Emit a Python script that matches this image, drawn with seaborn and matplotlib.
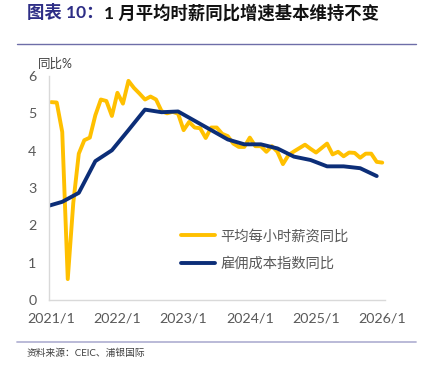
import numpy as np
import pandas as pd
import seaborn as sns
import matplotlib.pyplot as plt
from matplotlib.lines import Line2D

# monthly index 0 = 2021/1 ... 60 = 2026/1
ahe_month = list(range(0, 61))
ahe_yoy = [5.30, 5.29, 4.50, 0.56, 2.60, 3.92, 4.28, 4.35, 4.95, 5.37,
           5.33, 4.93, 5.55, 5.26, 5.87, 5.68, 5.53, 5.37, 5.45, 5.37,
           5.06, 5.00, 5.04, 4.99, 4.55, 4.77, 4.62, 4.60, 4.34, 4.62,
           4.62, 4.45, 4.39, 4.19, 4.10, 4.10, 4.35, 4.12, 4.12, 3.97,
           4.12, 3.97, 3.64, 3.88, 3.98, 4.07, 4.16, 4.05, 3.95, 4.07,
           4.19, 3.90, 3.97, 3.85, 3.95, 3.94, 3.81, 3.92, 3.92, 3.70,
           3.68]

# quarterly ECI, placed at the last month of each quarter (-1 = 2020/12)
eci_month = [-1, 2, 5, 8, 11, 14, 17, 20, 23, 26, 29, 32, 35, 38, 41, 44, 47, 50, 53, 56, 59]
eci_yoy = [2.50, 2.63, 2.87, 3.72, 4.01, 4.55, 5.10, 5.03, 5.05, 4.80,
           4.55, 4.30, 4.17, 4.17, 4.06, 3.84, 3.75, 3.58, 3.58, 3.53, 3.32]

tick_pos = [0, 12, 24, 36, 48, 60]
tick_labels = ["2021/1", "2022/1", "2023/1", "2024/1", "2025/1", "2026/1"]
series_names = ["平均每小时薪资同比", "雇佣成本指数同比"]

YELLOW = "#FFC000"
NAVY = "#0C2E78"
GRAY = "#595959"

sns.set_theme(style="white")
plt.rcParams["font.family"] = ["Lato", "Noto Sans CJK SC", "DejaVu Sans"]

df_ahe = pd.DataFrame({"month": ahe_month, "yoy": ahe_yoy})
df_eci = pd.DataFrame({"month": eci_month, "yoy": eci_yoy})

W, H = 422, 372
fig = plt.figure(figsize=(W / 100, H / 100), dpi=100)
ax = fig.add_axes([49 / W, 1 - 300 / H, (385 - 49) / W, (300 - 76) / H])

sns.lineplot(data=df_ahe, x="month", y="yoy", ax=ax, color=YELLOW, linewidth=2.8)
sns.lineplot(data=df_eci, x="month", y="yoy", ax=ax, color=NAVY, linewidth=2.8)

ax.set_xlim(-0.4, 60.5)
ax.set_ylim(0, 6)
ax.set_xticks(tick_pos)
ax.set_xticklabels(tick_labels)
ax.set_yticks(range(0, 7))
ax.set_xlabel("")
ax.set_ylabel("")
ax.tick_params(axis="both", length=0, pad=9, labelsize=10.3, labelcolor=GRAY)
for side in ["top", "right"]:
    ax.spines[side].set_visible(False)
for side in ["left", "bottom"]:
    ax.spines[side].set_color("#D9D9D9")
    ax.spines[side].set_linewidth(1.0)

handles = [Line2D([], [], color=YELLOW, linewidth=2.8),
           Line2D([], [], color=NAVY, linewidth=2.8)]
fig.legend(handles, series_names, loc="center left",
           bbox_to_anchor=(181 / W, 1 - 249 / H), frameon=False,
           handlelength=2.4, handletextpad=0.35, labelspacing=0.95,
           borderpad=0, borderaxespad=0, prop={"size": 10.3},
           labelcolor=GRAY)

# y axis unit
fig.text(38 / W, 1 - 64 / H, "同比%", fontsize=9, color="#404040", va="center")

# title in two colours
t1 = fig.text(27 / W, 1 - 13 / H, "图表 10：", fontsize=12.5, fontweight="bold",
              color="#2E2E86", va="center")
fig.canvas.draw()
bb = t1.get_window_extent()
fig.text(bb.x1 / W + 1 / W, 1 - 13 / H, "1 月平均时薪同比增速基本维持不变",
         fontsize=12.5, fontweight="bold", color="#111111", va="center")

# separator lines
fig.add_artist(Line2D([17 / W, 416 / W], [1 - 44 / H, 1 - 44 / H],
                      color="#6E6EA8", linewidth=1.0))
fig.add_artist(Line2D([17 / W, 416 / W], [1 - 342 / H, 1 - 342 / H],
                      color="#B4B4D4", linewidth=1.3))

fig.text(27 / W, 1 - 353 / H, "资料来源：CEIC、浦银国际", fontsize=7,
         color="#404040", va="center")

fig.savefig("out.png", dpi=100)
